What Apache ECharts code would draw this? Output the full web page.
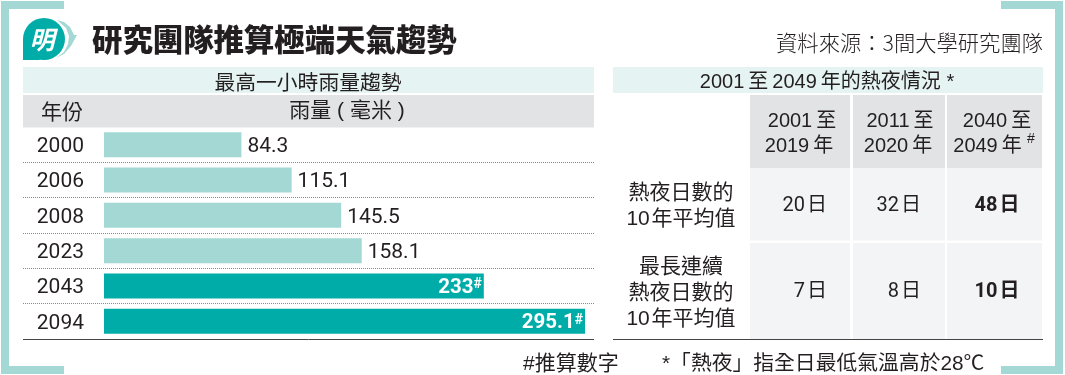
<!DOCTYPE html>
<html><head><meta charset="utf-8">
<style>html,body{margin:0;padding:0;background:#fff}#c{width:1065px;height:375px}</style>
<script src="https://cdn.jsdelivr.net/npm/echarts@6/dist/echarts.min.js"></script>
</head><body><div id="c"></div>
<script>
const titleText = '研究團隊推算極端天氣趨勢';
const sourceText = '資料來源：3間大學研究團隊';
const leftHeading = '最高一小時雨量趨勢';
const yearHead = '年份';
const rainHead = '雨量 ( 毫米 )';
const rightHeading = '2001\u2009至\u20092049\u2009年的熱夜情況 *';
const years = ['2000','2006','2008','2023','2043','2094'];
const rainfall = [84.3,115.1,145.5,158.1,233,295.1];
const projected = [false,false,false,false,true,true];
const periodHeads = [['2001\u2009至','2019\u2009年'],['2011\u2009至','2020\u2009年'],['2040\u2009至','2049\u2009年']];
const rowLabels = [['熱夜日數的','10\u200a年平均值'],['最長連續','熱夜日數的','10\u200a年平均值']];
const avgNights = ['20\u200a日','32\u200a日','48\u200a日'];
const longestRun = ['7\u200a日','8\u200a日','10\u200a日'];
const footNoteA = '#推算數字';
const footNoteB = '*「熱夜」指全日最低氣溫高於28℃';

const FF = '"Liberation Sans","Noto Sans CJK TC",sans-serif';
const RB = 'Roboto,"Noto Sans CJK TC",sans-serif';
const CJK = '"Noto Sans CJK TC",sans-serif';
const INK = '#231f20', PALE = '#a3d8d5', TEAL = '#00aca8', BAND = '#e5f3f2', GREY = '#e1e3e5', CELL = '#f3f4f6';

const rect = (x,y,w,h,fill,z) => ({type:'rect',z:z||1,shape:{x,y,width:w,height:h},style:{fill}});
const text = (x,y,t,size,o) => ({type:'text',z:5,x,y,style:Object.assign({text:t,fill:INK,font:`${size}px ${FF}`,textAlign:'center',textVerticalAlign:'middle'},o||{})});

const g = [];
// frame corners
[[1,1,63,8],[1,1,8,373],[1,366,63,8],[1001,1,62,8],[1055,1,8,373],[1001,366,62,8]].forEach(r=>g.push(rect(r[0],r[1],r[2],r[3],PALE)));
// logo
g.push({type:'polygon',z:2,shape:{points:[[57,20],[64,22],[70,27],[74,35],[77,35],[71,46],[64,54],[56,58],[64,52],[68,44],[69,36],[66,28]]},style:{fill:PALE}});
g.push({type:'circle',z:3,shape:{cx:44,cy:39,r:21},style:{fill:TEAL}});
g.push({type:'polygon',z:3,shape:{points:[[23,38],[40,60],[23,60]]},style:{fill:TEAL}});
g.push(text(42,39,'明',25,{fill:'#fff',font:`italic 700 25px ${CJK}`}));
// title and source
g.push(text(92,39,titleText,30.4,{font:`900 30.4px ${CJK}`,textAlign:'left'}));
g.push(text(1043,43,sourceText,21.3,{textAlign:'right',font:`300 21.3px ${CJK}`}));
// left panel
g.push(rect(23,67,571,26,BAND), rect(23,95,571,32.5,GREY,1));
g.push(text(308,82,leftHeading,20.8,{font:`20.8px ${CJK}`}));
g.push(text(62,111,yearHead,21,{font:`21px ${CJK}`}));
g.push(text(347,111,rainHead,21,{font:`21px ${FF}`}));
[162.5,197.5,233.5,268.5,303.5].forEach(y=>g.push({type:'line',z:1,shape:{x1:23,y1:y,x2:594,y2:y},style:{stroke:'#8a8a8a',lineWidth:1,lineDash:[1,1]}}));
g.push({type:'line',z:6,shape:{x1:23,y1:339.5,x2:594,y2:339.5},style:{stroke:'#444',lineWidth:1}});
// right panel
const cols = [[750,100],[853,92],[947,95]];
const valueRight = [827,921,1019.5];
const headShift = [[2,-1],[1,-1],[2.5,-7]];
g.push(rect(613,67,430,26,BAND));
g.push(text(827,82,rightHeading,20));
cols.forEach((c,i)=>{
  g.push(rect(c[0],95,c[1],73,GREY), rect(c[0],168,c[1],72.5,CELL), rect(c[0],243,c[1],96,CELL));
  const cx = c[0]+c[1]/2;
  g.push(text(cx+headShift[i][0],121,periodHeads[i][0],20), text(cx+headShift[i][1],146,periodHeads[i][1],20));
  const st = i===2 ? {font:`bold 20px ${RB}`,textAlign:'right'} : {font:`20px ${RB}`,textAlign:'right'};
  g.push(text(valueRight[i],206,avgNights[i],20,st), text(valueRight[i],292,longestRun[i],20,st));
});
g.push(text(1031,139,'#',14));
rowLabels[0].forEach((t,i)=>g.push(text(681,193+26*i,t,21)));
rowLabels[1].forEach((t,i)=>g.push(text(681,267+26*i,t,21)));
g.push({type:'line',z:6,shape:{x1:613,y1:339.5,x2:1043,y2:339.5},style:{stroke:'#444',lineWidth:1}});
// footnotes
g.push(text(523,364,footNoteA,21,{textAlign:'left'}), text(662,364,footNoteB,20.8,{textAlign:'left'}));

const chart = echarts.init(document.getElementById('c'),null,{renderer:'canvas'});
chart.setOption({
  animation:false,
  backgroundColor:'#fff',
  grid:{left:104,top:127,width:489,height:212,containLabel:false},
  xAxis:{type:'value',min:0,max:300,show:false},
  yAxis:{type:'category',inverse:true,data:years,
    axisLine:{show:false},axisTick:{show:false},splitLine:{show:false},
    axisLabel:{color:INK,fontFamily:RB,fontSize:21,margin:20,verticalAlign:'top',lineHeight:4}},
  series:[{type:'bar',z:4,barWidth:25,
    data:rainfall.map((v,i)=>({
      value:v,
      itemStyle:{color:projected[i]?TEAL:PALE},
      label:projected[i]
        ? {show:true,position:'insideRight',distance:2,offset:[0,2],formatter:p=>`{v|${p.value}}{s|#}`,
           rich:{v:{color:'#fff',fontFamily:RB,fontWeight:'bold',fontSize:20.5},s:{color:'#fff',fontFamily:RB,fontWeight:'bold',fontSize:14,verticalAlign:'top',padding:[0,0,6,0]}}}
        : {show:true,position:'right',distance:6,offset:[0,2],color:INK,fontFamily:RB,fontSize:21}
    }))
  }],
  graphic:{elements:g}
});
</script></body></html>
